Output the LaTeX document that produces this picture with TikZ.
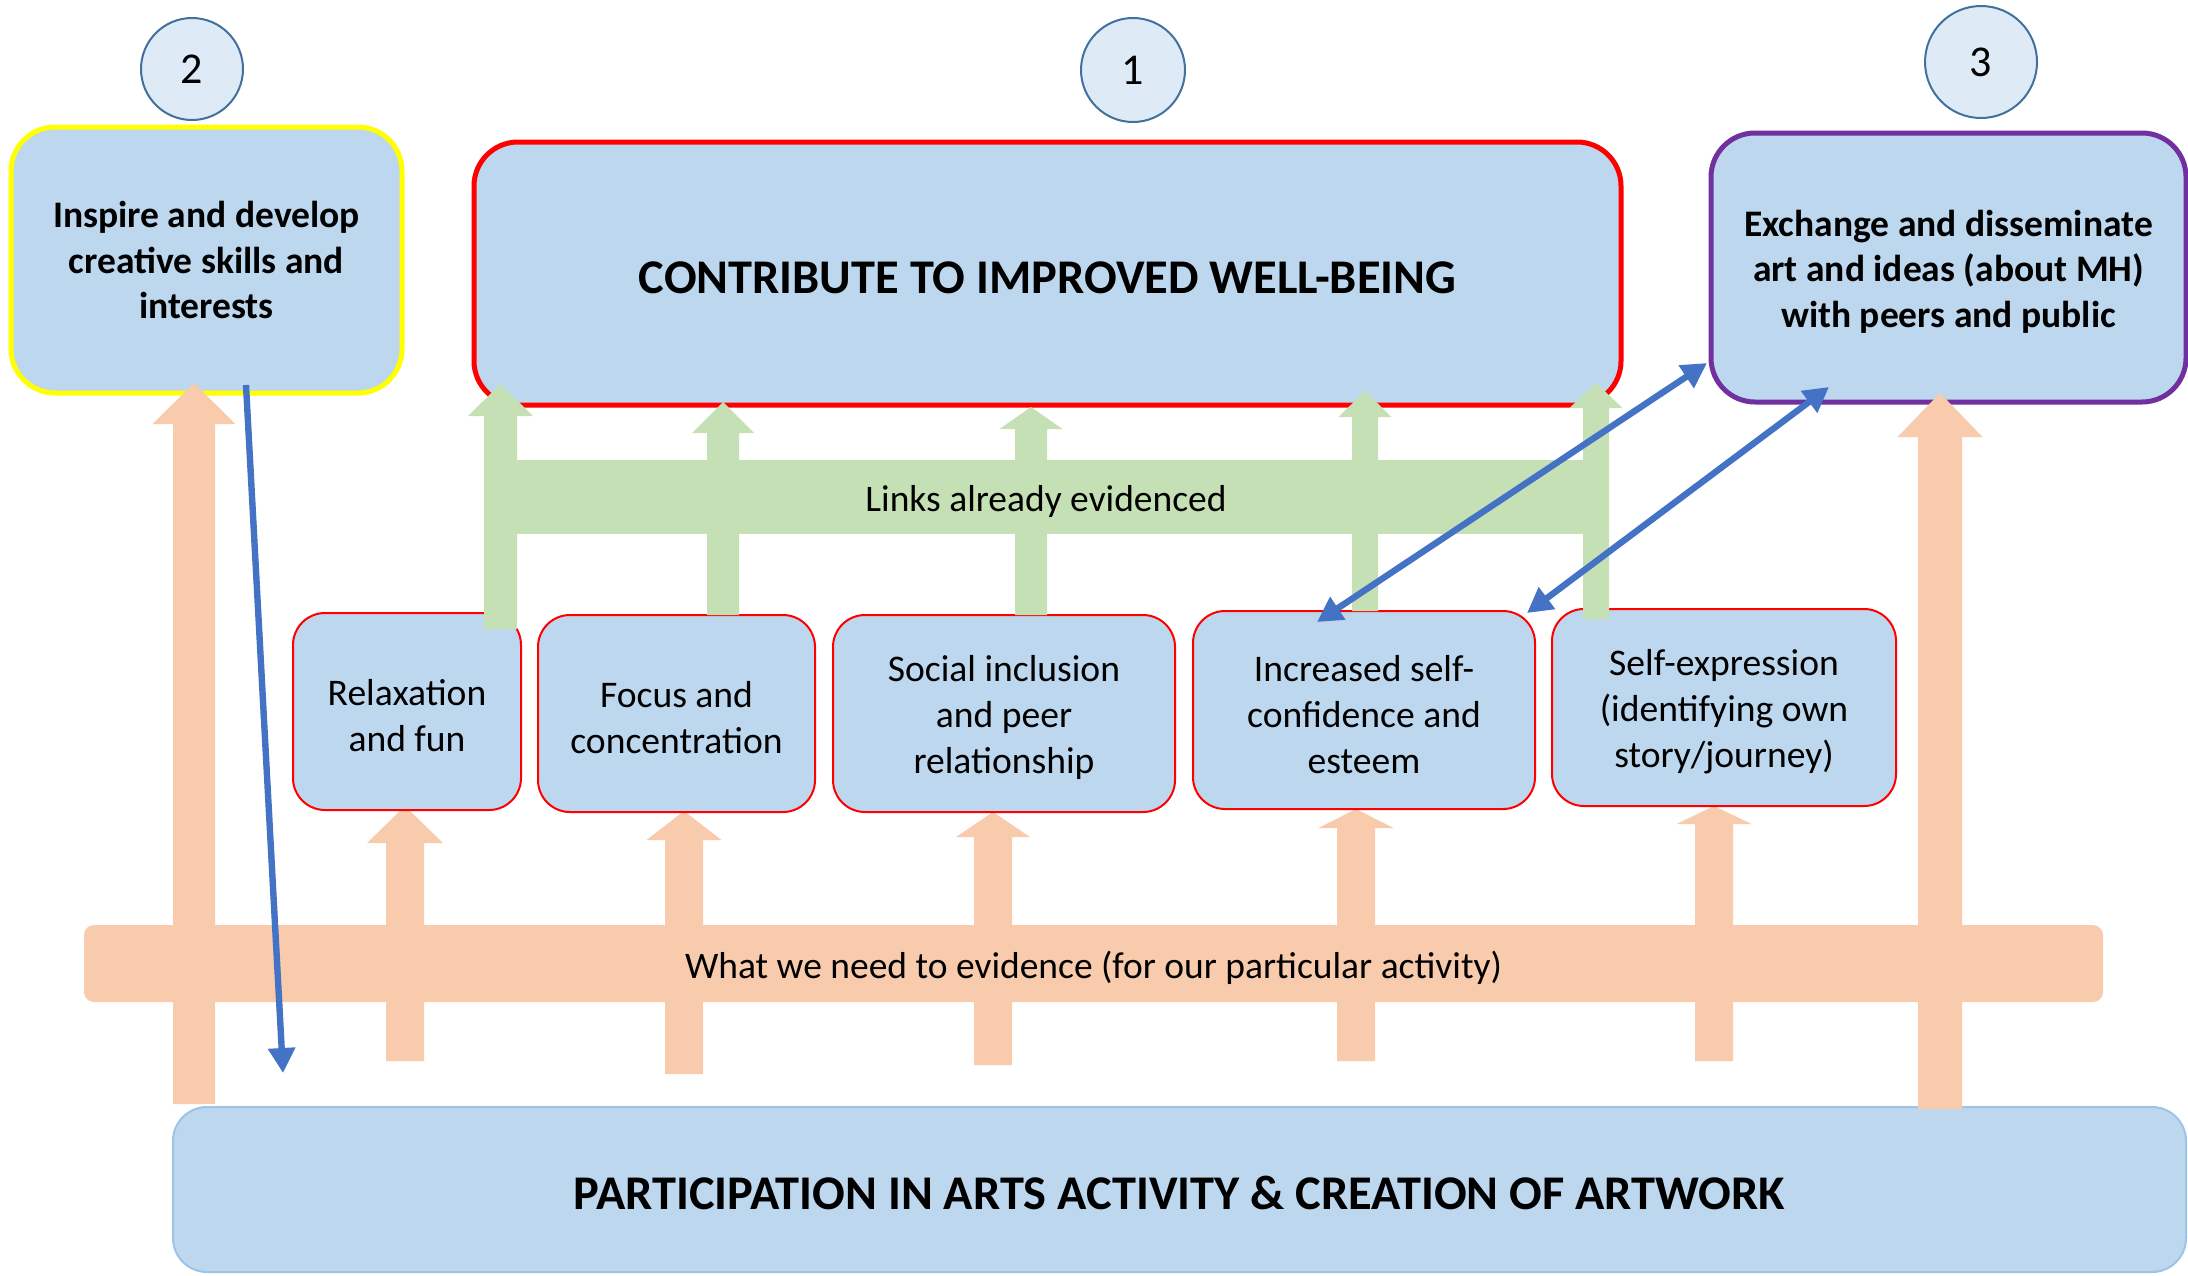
\documentclass[tikz,border=0pt]{standalone}
\usepackage{fontspec}
\setmainfont{Carlito}
\usetikzlibrary{arrows.meta}

\definecolor{boxblue}{HTML}{BDD7EE}
\definecolor{badgefill}{HTML}{DEEBF7}
\definecolor{badgeedge}{HTML}{41719C}
\definecolor{baseedge}{HTML}{9DC3E6}
\definecolor{goalyellow}{HTML}{FFFF00}
\definecolor{goalred}{HTML}{FF0000}
\definecolor{goalpurple}{HTML}{7030A0}
\definecolor{linkgreen}{HTML}{C5E0B4}
\definecolor{needorange}{HTML}{F8CBAD}
\definecolor{arrowblue}{HTML}{4472C4}

% upward block arrow: colour, x centre, y of foot, y of head base, y of tip, shaft width, head width
\newcommand{\blockup}[7]{%
  \fill[#1] (#2-#6/2,#3) -- (#2-#6/2,#4) -- (#2-#7/2,#4) -- (#2,#5)
    -- (#2+#7/2,#4) -- (#2+#6/2,#4) -- (#2+#6/2,#3) -- cycle;}
% invisible strut that lowers a text block a little inside its box
\newcommand{\dropstrut}{\rule{0pt}{17.2pt}}

\tikzset{
  linktip/.tip={Triangle[length=12.5pt,width=13pt]},
  goal/.style={draw, line width=2.5pt, fill=boxblue, rounded corners=22pt,
    align=center, inner sep=0pt,
    font=\bfseries\fontsize{18.75}{22.75}\selectfont},
  title/.style={font=\bfseries\fontsize{24.2}{29}\selectfont,
    text height=19.5pt, text depth=0pt},
  outcome/.style={draw=goalred, line width=1pt, fill=boxblue, rounded corners=16pt,
    align=center, inner sep=0pt, minimum height=98.5pt,
    font=\fontsize{18.8}{23}\selectfont},
  badge/.style={circle, draw=badgeedge, line width=1pt, fill=badgefill,
    inner sep=0pt, font=\fontsize{22}{26}\selectfont},
  band/.style={inner sep=0pt, font=\fontsize{18.75}{22}\selectfont,
    text height=18.7pt, text depth=3.75pt},
  link/.style={draw=arrowblue, line width=3.2pt},
}

\begin{document}
\begin{tikzpicture}[x=0.5pt,y=-0.5pt]
\useasboundingbox (0,0) rectangle (2188,1275);

% aims
\node[goal, draw=goalyellow, minimum width=195.5pt, minimum height=133pt]
  (skills) at (206.5,260) {Inspire and develop\\creative skills and\\interests};
\node[goal, draw=goalred, minimum width=573.5pt, minimum height=131.5pt, title]
  (wellbeing) at (1047.5,273.5) {CONTRIBUTE TO IMPROVED WELL-BEING};
\node[goal, draw=goalpurple, minimum width=237.5pt, minimum height=134.5pt]
  (exchange) at (1948.5,267.5) {\dropstrut Exchange and disseminate\\art and ideas (about MH)\\with peers and public};
\node[draw=baseedge, line width=1pt, fill=boxblue, rounded corners=17pt,
  minimum width=1006.5pt, minimum height=82.5pt, inner sep=0pt, title]
  (participation) at (1179.5,1189.5) {PARTICIPATION IN ARTS ACTIVITY \& CREATION OF ARTWORK};

% numbered badges
\node[badge, minimum size=51pt] (n2) at (192,69) {2};
\node[badge, minimum size=52pt] (n1) at (1133,70) {1};
\node[badge, minimum size=56pt] (n3) at (1981,62) {3};

% evidence still needed (orange)
\blockup{needorange}{194}{1104}{424}{383}{42}{83}
\blockup{needorange}{405}{1061}{843}{806}{38}{76}
\blockup{needorange}{684}{1074}{840}{811}{38}{75}
\blockup{needorange}{993}{1065}{837}{812}{38}{74}
\blockup{needorange}{1356}{1061}{828}{809}{38}{75}
\blockup{needorange}{1714}{1061}{824}{806}{38}{75}
\blockup{needorange}{1940}{1109}{437}{393}{44}{85}
\node[band, fill=needorange, rounded corners=5pt, minimum width=1009.5pt,
  minimum height=38.5pt] (need) at (1093.5,963.5)
  {What we need to evidence (for our particular activity)};

% outcomes
\node[outcome, minimum width=114pt] (relax) at (407,711.5) {\dropstrut Relaxation\\and fun};
\node[outcome, minimum width=138.5pt] (focus) at (676.5,713.5) {\dropstrut Focus and\\concentration};
\node[outcome, minimum width=171pt] (social) at (1004,713.5) {\dropstrut Social inclusion\\and peer\\relationship};
\node[outcome, minimum width=171pt, minimum height=99pt] (confidence) at (1364,710) {\dropstrut Increased self-\\confidence and\\esteem};
\node[outcome, minimum width=172pt] (expression) at (1724,707.5) {\dropstrut Self-expression\\(identifying own\\story/journey)};

% links already evidenced (green)
\blockup{linkgreen}{500.5}{629}{416}{384}{33}{65}
\blockup{linkgreen}{723}{615}{433}{402}{32}{62}
\blockup{linkgreen}{1031}{615}{429}{407}{32}{63}
\blockup{linkgreen}{1365}{611}{417}{391}{26}{53}
\blockup{linkgreen}{1596}{619}{408}{383}{26}{53}
\node[band, fill=linkgreen, minimum width=562pt, minimum height=37pt]
  (links) at (1046,497) {Links already evidenced};

% feedback connectors
\coordinate (fbtop) at (246,385);
\coordinate (fbfoot) at (283,1073);
\coordinate (confA) at (1317,622);
\coordinate (exA) at (1707,363);
\coordinate (confB) at (1527,613);
\coordinate (exB) at (1829,387);
\draw[link, -{linktip}] (fbtop) -- (fbfoot);
\draw[link, {linktip}-{linktip}] (confA) -- (exA);
\draw[link, {linktip}-{linktip}] (confB) -- (exB);
\end{tikzpicture}
\end{document}
